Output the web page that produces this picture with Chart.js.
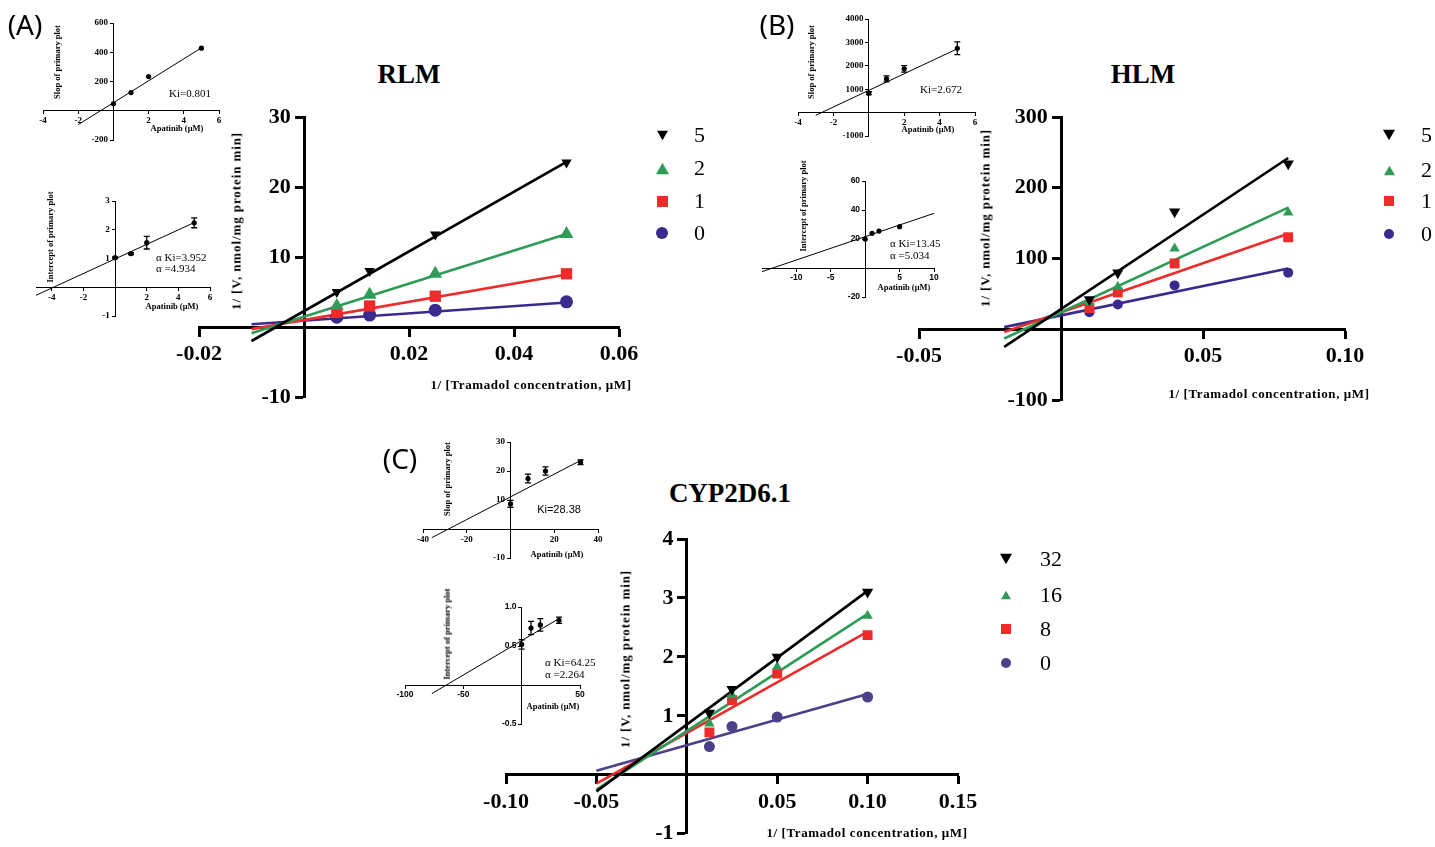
<!DOCTYPE html>
<html>
<head>
<meta charset="utf-8">
<title>Apatinib / Tramadol Lineweaver-Burk plots</title>
<script src="https://cdn.jsdelivr.net/npm/chart.js@4.4.1/dist/chart.umd.min.js"></script>
<style>
  body { margin: 0; width: 1435px; height: 847px; background: #fff; position: relative; overflow: hidden; }
  canvas { position: absolute; }
  .txt { position: absolute; white-space: nowrap; color: #000; font-family: "Liberation Serif", "Times New Roman", serif; line-height: 1; }
</style>
</head>
<body>
<script>
// ---- main plots: 1/V vs 1/[S] ----
const rlmConc = ['5', '2', '1', '0'];
const rlmX = [0.00625, 0.0125, 0.025, 0.05];
const rlmY5 = [5.0, 8.0, 13.2, 23.5];
const rlmY2 = [3.0, 4.6, 7.6, 13.3];
const rlmY1 = [2.1, 3.0, 4.4, 7.6];
const rlmY0 = [1.4, 1.7, 2.4, 3.6];
const rlmFitX = [-0.01, 0.05];
const rlmFit5 = [-2.0, 23.6];
const rlmFit2 = [-0.9, 13.3];
const rlmFit1 = [-0.3, 7.5];
const rlmFit0 = [0.4, 3.5];
const rlmXTicks = [-0.02, 0.02, 0.04, 0.06];
const rlmYTicks = [-10, 10, 20, 30];

const hlmConc = ['5', '2', '1', '0'];
const hlmX = [0.01, 0.02, 0.04, 0.08];
const hlmY5 = [42, 80, 166, 234];
const hlmY2 = [38, 60, 114, 165];
const hlmY1 = [30, 52, 93, 130];
const hlmY0 = [24, 35, 62, 80];
const hlmFitX = [-0.02, 0.08];
const hlmFit5 = [-25, 242];
const hlmFit2 = [-13, 172];
const hlmFit1 = [-4, 135];
const hlmFit0 = [3, 86];
const hlmXTicks = [-0.05, 0.05, 0.10];
const hlmYTicks = [-100, 100, 200, 300];

const cypConc = ['32', '16', '8', '0'];
const cypX = [0.0125, 0.025, 0.05, 0.1];
const cypY32 = [1.05, 1.45, 2.0, 3.1];
const cypY16 = [0.87, 1.35, 1.83, 2.7];
const cypY8 = [0.72, 1.27, 1.72, 2.37];
const cypY0 = [0.48, 0.82, 0.98, 1.32];
const cypFitX = [-0.05, 0.1];
const cypFit32 = [-0.28, 3.12];
const cypFit16 = [-0.25, 2.73];
const cypFit8 = [-0.15, 2.43];
const cypFit0 = [0.07, 1.37];
const cypXTicks = [-0.10, -0.05, 0.05, 0.10, 0.15];
const cypYTicks = [-1, 1, 2, 3, 4];

// ---- secondary plots (insets) ----
const apaAB = [0, 1, 2, 5];
const apaC = [0, 8, 16, 32];

const rlmSlope = [48, 124, 234, 428];
const rlmSlopeFitX = [-2, 5];
const rlmSlopeFitY = [-95, 430];
const rlmInt = [1.03, 1.17, 1.55, 2.24];
const rlmIntErr = [0.03, 0.03, 0.22, 0.17];
const rlmIntFitX = [-5, 5];
const rlmIntFitY = [-0.28, 2.25];

const hlmSlope = [830, 1440, 1870, 2750];
const hlmSlopeErr = [60, 130, 140, 270];
const hlmSlopeFitX = [-3, 5];
const hlmSlopeFitY = [-116, 2727];
const hlmInt = [20, 23.9, 25.5, 28.5];
const hlmIntFitX = [-15, 10];
const hlmIntFitY = [-2.5, 37.7];

const cypSlope = [8.7, 17.4, 20, 23];
const cypSlopeErr = [1.2, 1.5, 1.4, 0.8];
const cypSlopeFitX = [-36, 33];
const cypSlopeFitY = [-3.0, 24.0];
const cypInt = [0.52, 0.73, 0.77, 0.83];
const cypIntErr = [0.06, 0.085, 0.08, 0.04];
const cypIntFitX = [-77, 33];
const cypIntFitY = [-0.11, 0.86];

const abTicksX = [-4, -2, 2, 4, 6];
const rlmSlopeTicksY = [-200, 200, 400, 600];
const rlmIntTicksY = [-1, 1, 2, 3];
const hlmSlopeTicksY = [-1000, 1000, 2000, 3000, 4000];
const hlmIntTicksX = [-10, -5, 5, 10];
const hlmIntTicksY = [-20, 20, 40, 60];
const cypSlopeTicksX = [-40, -20, 20, 40];
const cypSlopeTicksY = [-10, 10, 20, 30];
const cypIntTicksX = [-100, -50, 50];
const cypIntTicksY = [-0.5, 0.5, 1.0];

const GREEN = '#2e9b57';
const RED = '#ee2b2b';
const BLUE = '#3b2a8e';
const BLUE_C = '#4d3f88';
const SERIF = '"Liberation Serif", "Times New Roman", serif';
const SANS = '"Liberation Sans", Arial, sans-serif';

// error bars for the secondary plots
const errorBars = {
  id: 'errorBars',
  afterDatasetsDraw(chart) {
    const { ctx } = chart;
    const xs = chart.scales.x, ys = chart.scales.y;
    chart.data.datasets.forEach(ds => {
      if (!ds.errors) return;
      ctx.save();
      ctx.strokeStyle = '#000';
      ctx.lineWidth = 1.3;
      ds.data.forEach((p, i) => {
        const e = ds.errors[i];
        if (!e) return;
        const px = xs.getPixelForValue(p.x);
        const y1 = ys.getPixelForValue(p.y + e), y2 = ys.getPixelForValue(p.y - e);
        ctx.beginPath();
        ctx.moveTo(px, y1); ctx.lineTo(px, y2);
        ctx.moveTo(px - 3, y1); ctx.lineTo(px + 3, y1);
        ctx.moveTo(px - 3, y2); ctx.lineTo(px + 3, y2);
        ctx.stroke();
      });
      ctx.restore();
    });
  }
};

function addCanvas(box, pad) {
  const c = document.createElement('canvas');
  const w = box[2] - box[0] + pad[0] + pad[2];
  const h = box[3] - box[1] + pad[1] + pad[3];
  c.width = w; c.height = h;
  c.style.left = (box[0] - pad[0]) + 'px';
  c.style.top = (box[1] - pad[1]) + 'px';
  c.style.width = w + 'px';
  c.style.height = h + 'px';
  document.body.appendChild(c);
  return c;
}

// y labels on a crossing axis sit on the line, so pad them with thin spaces
function axis(dir, range, ticks, dec, font, lw, tl, gap) {
  return {
    type: 'linear',
    min: range[0], max: range[1],
    position: dir === 'x' ? { y: 0 } : { x: 0 },
    afterBuildTicks: a => { a.ticks = ticks.map(v => ({ value: v })); },
    grid: { display: true, drawOnChartArea: false, drawTicks: true, tickLength: tl, tickWidth: lw, tickColor: '#000' },
    border: { display: true, color: '#000', width: lw },
    ticks: { color: '#000', font: font, padding: dir === 'x' ? gap : 0, autoSkip: false, maxRotation: 0,
      callback: v => (dir === 'y' ? v.toFixed(dec) + '\u2009'.repeat(gap) : v.toFixed(dec)) }
  };
}

function plot(box, pad, datasets, xAxis, yAxis) {
  const c = addCanvas(box, pad);
  return new Chart(c, {
    type: 'scatter',
    data: { datasets: datasets },
    options: {
      responsive: false,
      animation: false,
      events: [],
      layout: { padding: { left: pad[0], top: pad[1], right: pad[2], bottom: pad[3] } },
      plugins: { legend: { display: false }, tooltip: { enabled: false }, title: { display: false } },
      scales: { x: xAxis, y: yAxis }
    },
    plugins: [errorBars]
  });
}

function pts(xs, ys) { return xs.map((x, i) => ({ x: x, y: ys[i] })); }

function mainSets(xs, series, fitX, fits, colors, radii) {
  const shapes = [['triangle', 180], ['triangle', 0], ['rect', 0], ['circle', 0]];
  const sets = [];
  series.forEach((ys, i) => {
    sets.push({ data: pts(xs, ys), showLine: false, pointStyle: shapes[i][0], rotation: shapes[i][1],
      pointRadius: radii[i], backgroundColor: colors[i], borderColor: colors[i], borderWidth: 0, order: 0 });
    sets.push({ data: pts(fitX, fits[i]), showLine: true, pointRadius: 0, borderColor: colors[i],
      borderWidth: 2.6, order: 1 + i });
  });
  return sets;
}

function insetSets(xs, ys, errs, fitX, fitY) {
  return [
    { data: pts(xs, ys), showLine: false, pointStyle: 'circle', pointRadius: 2.6,
      backgroundColor: '#000', borderColor: '#000', borderWidth: 0, errors: errs, order: 0 },
    { data: pts(fitX, fitY), showLine: true, pointRadius: 0, borderColor: '#000', borderWidth: 1, order: 1 }
  ];
}

const mainFont = { family: SERIF, weight: 'bold', size: 22 };
const smallSerif = { family: SERIF, weight: 'bold', size: 9 };
const smallSans = { family: SANS, weight: 'bold', size: 8.5 };

// (A) RLM
plot([199, 117, 619, 397], [45, 15, 45, 15],
  mainSets(rlmX, [rlmY5, rlmY2, rlmY1, rlmY0], rlmFitX, [rlmFit5, rlmFit2, rlmFit1, rlmFit0],
    ['#000', GREEN, RED, BLUE], [6, 8, 8, 6.5]),
  axis('x', [-0.02, 0.06], rlmXTicks, 2, mainFont, 3, 8, 6),
  axis('y', [-10, 30], rlmYTicks, 0, mainFont, 3, 8, 3));

// (B) HLM
plot([919, 117, 1345, 400], [45, 15, 45, 15],
  mainSets(hlmX, [hlmY5, hlmY2, hlmY1, hlmY0], hlmFitX, [hlmFit5, hlmFit2, hlmFit1, hlmFit0],
    ['#000', GREEN, RED, BLUE], [6.5, 6, 7, 5]),
  axis('x', [-0.05, 0.10], hlmXTicks, 2, mainFont, 3, 8, 6),
  axis('y', [-100, 300], hlmYTicks, 0, mainFont, 3, 8, 3));

// (C) CYP2D6.1
plot([506, 539, 958, 840], [45, 15, 45, 7],
  mainSets(cypX, [cypY32, cypY16, cypY8, cypY0], cypFitX, [cypFit32, cypFit16, cypFit8, cypFit0],
    ['#000', GREEN, RED, BLUE_C], [6.5, 6, 7, 5.5]),
  axis('x', [-0.10, 0.15], cypXTicks, 2, mainFont, 3, 8, 6),
  axis('y', [-1, 4], cypYTicks, 0, mainFont, 3, 8, 3));

// insets
plot([43, 23, 219, 140], [20, 8, 10, 8],
  insetSets(apaAB, rlmSlope, null, rlmSlopeFitX, rlmSlopeFitY),
  axis('x', [-4, 6], abTicksX, 0, smallSerif, 1, 3, 2),
  axis('y', [-200, 600], rlmSlopeTicksY, 0, smallSerif, 1, 3, 3));

plot([36, 201, 210, 316], [15, 8, 10, 8],
  insetSets(apaAB, rlmInt, rlmIntErr, rlmIntFitX, rlmIntFitY),
  axis('x', [-5, 6], abTicksX, 0, smallSerif, 1, 3, 2),
  axis('y', [-1, 3], rlmIntTicksY, 0, smallSerif, 1, 3, 3));

plot([798, 19, 975, 136], [25, 8, 10, 8],
  insetSets(apaAB, hlmSlope, hlmSlopeErr, hlmSlopeFitX, hlmSlopeFitY),
  axis('x', [-4, 6], abTicksX, 0, smallSerif, 1, 3, 2),
  axis('y', [-1000, 4000], hlmSlopeTicksY, 0, smallSerif, 1, 3, 3));

plot([762, 181, 934, 297], [15, 8, 10, 8],
  insetSets(apaAB, hlmInt, null, hlmIntFitX, hlmIntFitY),
  axis('x', [-15, 10], hlmIntTicksX, 0, smallSans, 1, 3, 2),
  axis('y', [-20, 60], hlmIntTicksY, 0, smallSans, 1, 3, 3));

plot([423, 442, 598, 558], [20, 8, 10, 8],
  insetSets(apaC, cypSlope, cypSlopeErr, cypSlopeFitX, cypSlopeFitY),
  axis('x', [-40, 40], cypSlopeTicksX, 0, smallSerif, 1, 3, 2),
  axis('y', [-10, 30], cypSlopeTicksY, 0, smallSerif, 1, 3, 3));

plot([405, 607, 580, 724], [20, 8, 12, 8],
  insetSets(apaC, cypInt, cypIntErr, cypIntFitX, cypIntFitY),
  axis('x', [-100, 50], cypIntTicksX, 0, smallSans, 1, 3, 2),
  axis('y', [-0.5, 1.0], cypIntTicksY, 1, smallSans, 1, 3, 3));

// ---- text ----
function text(str, x, y, css, mode) {
  const d = document.createElement('div');
  d.className = 'txt';
  d.textContent = str;
  d.style.cssText += css;
  d.style.left = x + 'px';
  d.style.top = y + 'px';
  if (mode === 'rot') d.style.transform = 'translate(-50%,-50%) rotate(-90deg)';
  else if (mode === 'left') d.style.transform = 'translate(0,-50%)';
  else d.style.transform = 'translate(-50%,-50%)';
  document.body.appendChild(d);
}

const panelCss = 'font-family:"Noto Sans",sans-serif;font-size:28px;';
text('(A)', 25, 24, panelCss);
text('(B)', 777, 24, panelCss);
text('(C)', 400, 458, panelCss);

const titleCss = 'font-weight:bold;font-size:27px;';
text('RLM', 409, 74, titleCss);
text('HLM', 1143, 74, titleCss);
text('CYP2D6.1', 730, 493, titleCss);

const yLab = '1/ [V, nmol/mg protein min]';
const xLab = '1/ [Tramadol concentration, \u03bcM]';
const axCss = 'font-weight:bold;font-size:13px;letter-spacing:0.9px;';
const axCssX = 'font-weight:bold;font-size:13px;letter-spacing:0.6px;';
text(yLab, 236, 221, axCss, 'rot');
text(yLab, 985, 218, axCss, 'rot');
text(yLab, 625, 659, axCss, 'rot');
text(xLab, 531, 384, axCssX);
text(xLab, 1269, 393, axCssX);
text(xLab, 867, 832, axCssX);

// inset labels
const inAx = 'font-weight:bold;font-size:8.5px;';
text('Slop of primary plot', 57, 62, inAx, 'rot');
text('Intercept of primary plot', 50, 237, inAx, 'rot');
text('Slop of primary plot', 811, 62, inAx, 'rot');
text('Intercept of primary plot', 803, 206, inAx, 'rot');
text('Slop of primary plot', 447, 479, inAx, 'rot');
text('Intercept of primary plot', 447, 634, inAx, 'rot');
text('Apatinib (\u03bcM)', 177, 128, inAx);
text('Apatinib (\u03bcM)', 172, 306, inAx);
text('Apatinib (\u03bcM)', 928, 129, inAx);
text('Apatinib (\u03bcM)', 904, 287, inAx);
text('Apatinib (\u03bcM)', 557, 554, inAx);
text('Apatinib (\u03bcM)', 553, 706, inAx);

const kiCss = 'font-size:11px;';
text('Ki=0.801', 190, 93, kiCss);
text('\u03b1 Ki=3.952', 156, 257, kiCss, 'left');
text('\u03b1 =4.934', 156, 268, kiCss, 'left');
text('Ki=2.672', 941, 89, kiCss);
text('\u03b1 Ki=13.45', 890, 243, kiCss, 'left');
text('\u03b1 =5.034', 890, 255, kiCss, 'left');
text('Ki=28.38', 559, 509, 'font-family:"Liberation Sans",Arial,sans-serif;font-size:11px;');
text('\u03b1 Ki=64.25', 545, 662, kiCss, 'left');
text('\u03b1 =2.264', 545, 674, kiCss, 'left');

// ---- legends ----
function marker(kind, color, s, cx, cy) {
  const ns = 'http://www.w3.org/2000/svg';
  const svg = document.createElementNS(ns, 'svg');
  svg.setAttribute('width', s); svg.setAttribute('height', s);
  svg.style.position = 'absolute';
  svg.style.left = (cx - s / 2) + 'px';
  svg.style.top = (cy - s / 2) + 'px';
  let el;
  if (kind === 'circle') {
    el = document.createElementNS(ns, 'circle');
    el.setAttribute('cx', s / 2); el.setAttribute('cy', s / 2); el.setAttribute('r', s / 2);
  } else if (kind === 'rect') {
    el = document.createElementNS(ns, 'rect');
    el.setAttribute('width', s); el.setAttribute('height', s);
  } else {
    el = document.createElementNS(ns, 'polygon');
    const h = s * 0.87, o = (s - h) / 2;
    el.setAttribute('points', kind === 'down'
      ? `0,${o} ${s},${o} ${s / 2},${o + h}`
      : `${s / 2},${o} ${s},${o + h} 0,${o + h}`);
  }
  el.setAttribute('fill', color);
  svg.appendChild(el);
  document.body.appendChild(svg);
}

function legend(labels, colors, sizes, mx, tx, ys) {
  const kinds = ['down', 'up', 'rect', 'circle'];
  labels.forEach((l, i) => {
    marker(kinds[i], colors[i], sizes[i], mx, ys[i]);
    text(l, tx, ys[i], 'font-size:22px;', 'left');
  });
}

legend(rlmConc, ['#000', GREEN, RED, BLUE], [11, 13, 11, 12], 662, 694, [135, 168, 201, 233]);
legend(hlmConc, ['#000', GREEN, RED, BLUE], [12, 11, 10, 10], 1389, 1421, [135, 170, 201, 234]);
legend(cypConc, ['#000', GREEN, RED, BLUE_C], [12, 10, 10, 10], 1006, 1040, [559, 595, 629, 663]);
</script>
</body>
</html>
